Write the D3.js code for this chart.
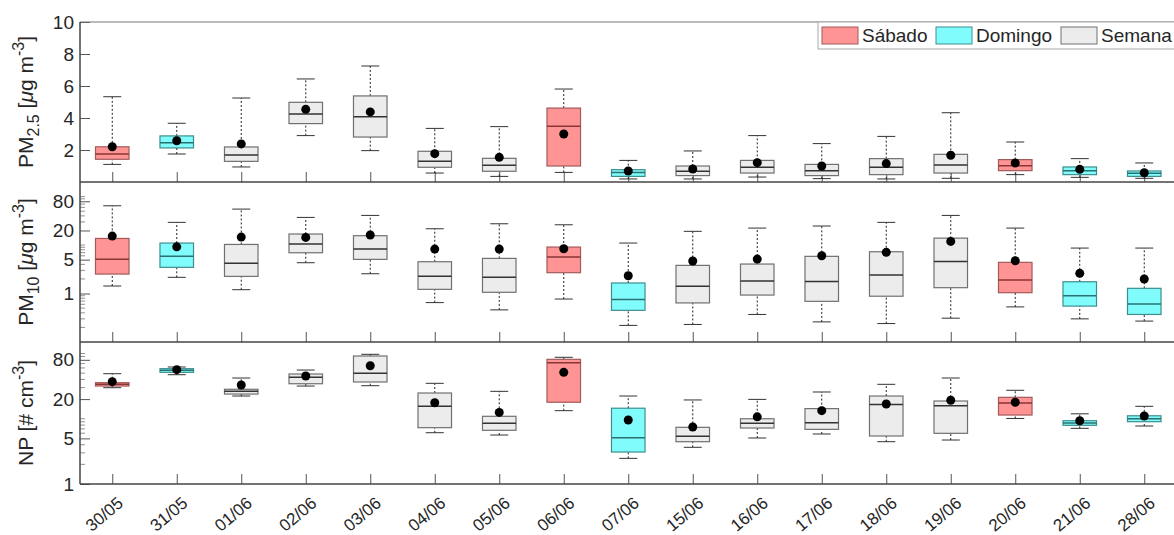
<!DOCTYPE html>
<html lang="en">
<head>
<meta charset="UTF-8">
<script src="https://d3js.org/d3.v7.min.js"></script>
<title>PM2.5, PM10 y NP por día</title>
<style>
  body { margin: 0; background: #fff; }
  svg { font-family: "Liberation Sans", Arial, sans-serif; }
</style>
</head>
<body>
<div id="chart"></div>
<script>

// days on the x axis and the kind of day of each one
const days = ["30/05","31/05","01/06","02/06","03/06","04/06","05/06","06/06","07/06",
              "15/06","16/06","17/06","18/06","19/06","20/06","21/06","28/06"];
const dayType = ["Sábado","Domingo","Semana","Semana","Semana","Semana","Semana","Sábado","Domingo",
                 "Semana","Semana","Semana","Semana","Semana","Sábado","Domingo","Domingo"];
const legendNames = ["Sábado","Domingo","Semana"];

// one row per day: [lower whisker, q1, median, q3, upper whisker, mean]
const pm25 = [
  [1.10, 1.42, 1.75, 2.20, 5.33, 2.20],
  [1.75, 2.13, 2.46, 2.88, 3.67, 2.58],
  [0.94, 1.29, 1.69, 2.19, 5.25, 2.38],
  [2.90, 3.65, 4.25, 4.98, 6.44, 4.54],
  [1.96, 2.81, 4.08, 5.38, 7.25, 4.38],
  [0.56, 0.92, 1.29, 1.92, 3.35, 1.77],
  [0.35, 0.67, 1.04, 1.48, 3.46, 1.54],
  [0.60, 1.00, 3.48, 4.62, 5.81, 3.00],
  [0.19, 0.35, 0.60, 0.77, 1.35, 0.69],
  [0.19, 0.40, 0.67, 1.00, 1.94, 0.81],
  [0.31, 0.56, 0.92, 1.35, 2.90, 1.21],
  [0.21, 0.40, 0.71, 1.10, 2.40, 1.00],
  [0.19, 0.46, 0.92, 1.46, 2.85, 1.15],
  [0.23, 0.56, 1.06, 1.73, 4.33, 1.67],
  [0.46, 0.71, 1.02, 1.40, 2.50, 1.19],
  [0.29, 0.46, 0.71, 0.94, 1.46, 0.79],
  [0.23, 0.35, 0.54, 0.69, 1.19, 0.58]
];
const pm10 = [
  [1.43, 2.52, 5.07, 13.7, 64.6, 15.3],
  [2.16, 3.47, 5.85, 11.0, 29.4, 9.2],
  [1.20, 2.26, 4.19, 10.3, 55.2, 14.6],
  [4.32, 6.94, 10.5, 16.9, 37.2, 14.4],
  [2.56, 5.07, 8.27, 15.6, 40.9, 16.1],
  [0.65, 1.22, 2.26, 4.53, 21.7, 8.27],
  [0.46, 1.06, 2.16, 5.31, 27.5, 8.27],
  [0.77, 2.69, 5.66, 9.10, 26.2, 8.4],
  [0.22, 0.45, 0.75, 1.65, 11.0, 2.33],
  [0.23, 0.64, 1.41, 3.81, 19.2, 4.68],
  [0.37, 0.93, 1.81, 4.06, 22.4, 5.14],
  [0.26, 0.69, 1.78, 5.85, 24.7, 6.02],
  [0.24, 0.88, 2.41, 7.28, 29.4, 7.07],
  [0.31, 1.32, 4.60, 13.9, 40.9, 11.9],
  [0.53, 1.04, 1.90, 4.40, 22.4, 4.75],
  [0.30, 0.55, 0.90, 1.75, 8.67, 2.61],
  [0.27, 0.37, 0.61, 1.28, 8.67, 1.99]
];
const np = [
  [29.9, 31.7, 33.7, 35.7, 49.0, 37.0],
  [47.3, 51.4, 55.2, 58.5, 62.1, 56.5],
  [22.3, 23.9, 26.3, 28.3, 42.1, 32.9],
  [31.7, 34.4, 43.1, 48.5, 55.8, 45.2],
  [32.1, 36.6, 49.7, 91.5, 97.1, 65.0],
  [6.11, 7.30, 15.5, 24.8, 34.9, 17.6],
  [5.63, 6.65, 8.51, 10.9, 26.3, 12.5],
  [13.3, 17.9, 72.3, 81.4, 87.4, 51.4],
  [2.47, 3.09, 5.13, 14.5, 22.3, 9.57],
  [3.65, 4.45, 5.38, 7.39, 19.4, 7.47],
  [5.07, 7.21, 8.51, 10.0, 19.8, 10.7],
  [5.84, 6.88, 8.70, 14.3, 25.7, 13.3],
  [4.45, 5.44, 16.6, 22.3, 33.7, 16.8],
  [4.72, 5.98, 15.8, 18.7, 42.1, 19.2],
  [10.1, 11.4, 17.4, 21.3, 27.3, 17.9],
  [7.13, 7.93, 8.60, 9.33, 11.9, 9.33],
  [7.74, 9.01, 10.0, 11.1, 15.5, 11.0]
];

// tick values of each panel
const pm25Ticks = [2, 4, 6, 8, 10];
const pm10Ticks = [1, 5, 20, 80];
const npTicks = [1, 5, 20, 80];

// colours per kind of day
const fillColor = d3.scaleOrdinal().domain(legendNames).range(["#ff9494", "#80fcfc", "#ececec"]);
const edgeColor = d3.scaleOrdinal().domain(legendNames).range(["#a35a5a", "#3e8e8e", "#707070"]);
const medColor = d3.scaleOrdinal().domain(legendNames).range(["#8a3535", "#2b7070", "#333333"]);

const W = 1174, H = 535;
const left = 80, right = 1176.5;

const svg = d3.select("#chart").append("svg")
    .attr("width", W).attr("height", H);

const x = d3.scalePoint().domain(days).range([left, right]).padding(0.5);
const step = x.step();
const boxW = step * 0.52;
const capW = 18;

// the three panels
const panels = [
  {data: pm25, top: 22, bottom: 182, log: false, domain: [0, 10], ticks: pm25Ticks,
   label: ["PM", "2.5", "μ"]},
  {data: pm10, top: 182, bottom: 342, log: true, domain: [0.1, 200], ticks: pm10Ticks,
   label: ["PM", "10", "μ"]},
  {data: np, top: 342, bottom: 484, log: true, domain: [1, 150], ticks: npTicks,
   label: ["NP", null, "#"]}
];

panels.forEach(function(p, k) {
  const y = (p.log ? d3.scaleLog() : d3.scaleLinear())
      .domain(p.domain).range([p.bottom, p.top]);

  const g = svg.append("g");

  // y ticks pointing inside
  const yAxis = g.append("g")
      .attr("transform", "translate(" + left + ",0)")
      .call(d3.axisLeft(y).tickValues(p.ticks).tickFormat(d3.format("d"))
              .tickSize(-10).tickPadding(6));
  yAxis.select(".domain").remove();
  yAxis.selectAll(".tick line").attr("stroke", "#555");
  yAxis.selectAll(".tick text").attr("font-size", 19).attr("fill", "#262626")
      .attr("font-family", "Liberation Sans, Arial, sans-serif");

  // minor ticks on the log panels
  if (p.log) {
    const minor = [];
    for (let e = -1; e <= 2; e++) {
      for (let m = 2; m <= 9; m++) {
        const v = m * Math.pow(10, e);
        if (v > p.domain[0] && v < p.domain[1] && p.ticks.indexOf(v) < 0) minor.push(v);
      }
      const v10 = Math.pow(10, e);
      if (v10 > p.domain[0] && v10 < p.domain[1] && p.ticks.indexOf(v10) < 0) minor.push(v10);
    }
    g.selectAll(".minor").data(minor).enter().append("line")
        .attr("x1", left).attr("x2", left + 5)
        .attr("y1", d => y(d)).attr("y2", d => y(d))
        .attr("stroke", "#777").attr("stroke-width", 0.8);
  }

  // x ticks at the panel bottom
  const xAxis = g.append("g")
      .attr("transform", "translate(0," + p.bottom + ")")
      .call(d3.axisBottom(x).tickSize(-10).tickFormat(""));
  xAxis.select(".domain").remove();
  xAxis.selectAll(".tick line").attr("stroke", "#555");

  // boxes
  const box = g.selectAll(".box").data(p.data).enter().append("g")
      .attr("transform", (d, i) => "translate(" + x(days[i]) + ",0)");

  box.append("line")
      .attr("y1", d => y(d[3])).attr("y2", d => y(d[4]))
      .attr("stroke", "#222").attr("stroke-dasharray", "2,2");
  box.append("line")
      .attr("y1", d => y(d[0])).attr("y2", d => y(d[1]))
      .attr("stroke", "#222").attr("stroke-dasharray", "2,2");
  box.append("line")
      .attr("x1", -capW / 2).attr("x2", capW / 2)
      .attr("y1", d => y(d[4])).attr("y2", d => y(d[4]))
      .attr("stroke", "#333");
  box.append("line")
      .attr("x1", -capW / 2).attr("x2", capW / 2)
      .attr("y1", d => y(d[0])).attr("y2", d => y(d[0]))
      .attr("stroke", "#333");
  box.append("rect")
      .attr("x", -boxW / 2).attr("width", boxW)
      .attr("y", d => y(d[3])).attr("height", d => y(d[1]) - y(d[3]))
      .attr("fill", (d, i) => fillColor(dayType[i]))
      .attr("stroke", (d, i) => edgeColor(dayType[i])).attr("stroke-width", 1.2);
  box.append("line")
      .attr("x1", -boxW / 2).attr("x2", boxW / 2)
      .attr("y1", d => y(d[2])).attr("y2", d => y(d[2]))
      .attr("stroke", (d, i) => medColor(dayType[i])).attr("stroke-width", 1.5);
  box.append("circle")
      .attr("cy", d => y(d[5])).attr("r", 4.5)
      .attr("fill", "#000");

  // y label
  const lab = svg.append("text")
      .attr("transform", "translate(33," + (p.top + p.bottom) / 2 + ") rotate(-90)")
      .attr("text-anchor", "middle")
      .attr("font-size", 21).attr("fill", "#262626");
  lab.append("tspan").text(p.label[0]);
  if (p.label[1]) {
    lab.append("tspan").attr("dy", 6).attr("font-size", 16).text(p.label[1]);
    lab.append("tspan").attr("dy", -6).text(" [");
  } else {
    lab.append("tspan").text(" [");
  }
  lab.append("tspan").attr("font-style", p.label[2] === "μ" ? "italic" : "normal").text(p.label[2]);
  lab.append("tspan").text(p.label[2] === "μ" ? "g m" : " cm");
  lab.append("tspan").attr("dy", -9).attr("font-size", 16).text("-3");
  lab.append("tspan").attr("dy", 9).text("]");
});

// frame lines
svg.append("line").attr("x1", left).attr("x2", W).attr("y1", 22).attr("y2", 22)
    .attr("stroke", "#777").attr("stroke-width", 1.2);
[182, 342, 484].forEach(function(yy) {
  svg.append("line").attr("x1", left).attr("x2", W).attr("y1", yy).attr("y2", yy)
      .attr("stroke", "#444").attr("stroke-width", 1.5);
});
svg.append("line").attr("x1", left).attr("x2", left).attr("y1", 22).attr("y2", 484)
    .attr("stroke", "#444").attr("stroke-width", 1.5);

// x tick labels, rotated
svg.append("g").selectAll("text").data(days).enter().append("text")
    .attr("transform", d => "translate(" + (x(d) + 12) + ",505) rotate(-40)")
    .attr("text-anchor", "end")
    .attr("font-size", 17).attr("fill", "#262626")
    .text(d => d);

// legend
const leg = svg.append("g");
leg.append("rect").attr("x", 818).attr("y", 22).attr("width", 380).attr("height", 27)
    .attr("fill", "#fff").attr("stroke", "#aaa");
const legX = [822, 936, 1061];
legendNames.forEach(function(n, i) {
  leg.append("rect").attr("x", legX[i]).attr("y", 27).attr("width", 36).attr("height", 17)
      .attr("fill", fillColor(n)).attr("stroke", edgeColor(n));
  leg.append("text").attr("x", legX[i] + 40).attr("y", 42)
      .attr("font-size", 19).attr("fill", "#262626").text(n);
});

</script>
</body>
</html>
